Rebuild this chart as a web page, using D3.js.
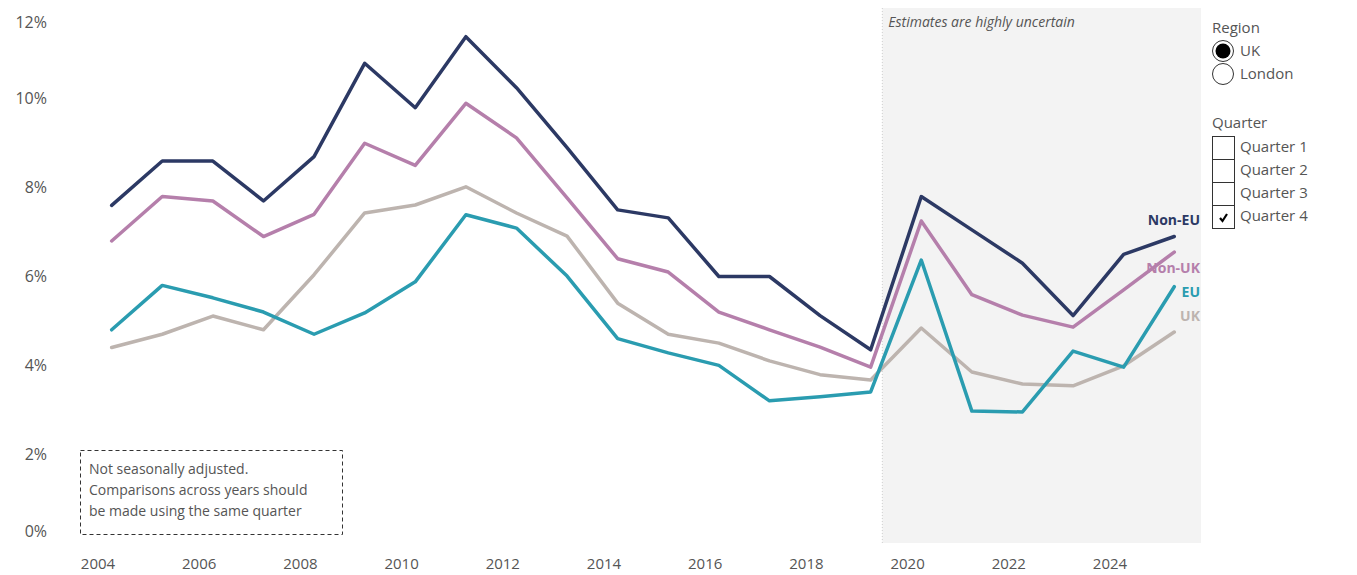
<!DOCTYPE html>
<html>
<head>
<meta charset="utf-8">
<script src="https://cdn.jsdelivr.net/npm/d3@7"></script>
<style>
  body { margin: 0; background: #fff; }
  text { font-family: "Open Sans", "Noto Sans", sans-serif; }
</style>
</head>
<body>
<div class="chart"></div>
<script>
/* Unemployment rate by country of birth, Quarter 4, UK */

var years = [2004, 2005, 2006, 2007, 2008, 2009, 2010, 2011, 2012, 2013, 2014,
             2015, 2016, 2017, 2018, 2019, 2020, 2021, 2022, 2023, 2024, 2025];

var nonEU = [7.6, 8.6, 8.6, 7.7, 8.7, 10.8, 9.8, 11.4, 10.25, 8.9, 7.5,
             7.32, 6.0, 6.0, 5.12, 4.35, 7.8, 7.05, 6.3, 5.12, 6.5, 6.9];
var nonUK = [6.8, 7.8, 7.7, 6.9, 7.4, 9.0, 8.5, 9.9, 9.12, 7.77, 6.4,
             6.1, 5.2, 4.8, 4.41, 3.96, 7.25, 5.59, 5.13, 4.86, 5.7, 6.55];
var eu    = [4.8, 5.8, 5.52, 5.2, 4.7, 5.18, 5.88, 7.39, 7.09, 6.01, 4.6,
             4.28, 4.0, 3.2, 3.29, 3.4, 6.37, 2.97, 2.95, 4.32, 3.96, 5.77];
var uk    = [4.4, 4.7, 5.11, 4.8, 6.04, 7.43, 7.61, 8.02, 7.43, 6.91, 5.4,
             4.7, 4.5, 4.1, 3.79, 3.67, 4.84, 3.85, 3.58, 3.54, 3.99, 4.75];

var seriesNames = ["UK", "EU", "Non-UK", "Non-EU"];
var seriesColors = ["#bdb4af", "#2a9cb0", "#b57fab", "#2c3964"];

var yTicks = [0, 2, 4, 6, 8, 10, 12];
var xTicks = [2004, 2006, 2008, 2010, 2012, 2014, 2016, 2018, 2020, 2022, 2024];

var regionOptions = ["UK", "London"];
var quarterOptions = ["Quarter 1", "Quarter 2", "Quarter 3", "Quarter 4"];

drawChart();

function drawChart() {

  var width = 1357, height = 575;

  var svg = d3.select(".chart")
      .append("svg")
      .attr("width", width)
      .attr("height", height);

  var x = d3.scaleLinear().domain([2004, 2024]).range([98, 1110]);
  var y = d3.scaleLinear().domain([0, 12]).range([543, 10]);
  var plotRight = 1201;

  // uncertain estimates band
  var shadeX = x(2019.5);
  svg.append("rect")
    .attr("x", shadeX).attr("y", 8)
    .attr("width", plotRight - shadeX).attr("height", 535)
    .style("fill", "#f3f3f3");
  svg.append("line")
    .attr("x1", shadeX).attr("x2", shadeX)
    .attr("y1", 8).attr("y2", 543)
    .style("stroke", "#cfcfcf")
    .style("stroke-dasharray", "1,2");
  svg.append("text")
    .attr("x", shadeX + 6).attr("y", 22)
    .attr("dy", "0.35em")
    .style("font-size", "14px")
    .style("font-style", "italic")
    .style("fill", "#555")
    .text("Estimates are highly uncertain");

  // y axis labels
  svg.append("g")
    .selectAll("text")
    .data(yTicks)
    .enter()
    .append("text")
    .attr("x", 47)
    .attr("y", function (d) {
      var off = d === 0 ? -12 : (d === 12 ? 12 : 0);
      return y(d) + off;
    })
    .attr("dy", "0.35em")
    .attr("text-anchor", "end")
    .style("font-size", "16px")
    .style("fill", "#555")
    .text(function (d) { return d + "%"; });

  // x axis labels
  svg.append("g")
    .selectAll("text")
    .data(xTicks)
    .enter()
    .append("text")
    .attr("x", function (d) { return x(d); })
    .attr("y", 564)
    .attr("dy", "0.35em")
    .attr("text-anchor", "middle")
    .style("font-size", "15px")
    .style("fill", "#555")
    .text(function (d) { return d; });

  // lines
  var allSeries = [uk, eu, nonUK, nonEU];
  var line = d3.line()
    .x(function (d, i) { return x(years[i] + 0.27); })
    .y(function (d) { return y(d); });

  svg.append("g")
    .selectAll("path")
    .data(allSeries)
    .enter()
    .append("path")
    .attr("d", line)
    .style("fill", "none")
    .style("stroke", function (d, i) { return seriesColors[i]; })
    .style("stroke-width", 3.5)
    .style("stroke-linejoin", "round")
    .style("stroke-linecap", "round");

  // end labels
  var labelY = { "Non-EU": 220, "Non-UK": 268, "EU": 292, "UK": 316 };
  svg.append("g")
    .selectAll("text")
    .data(seriesNames)
    .enter()
    .append("text")
    .attr("x", plotRight - 1)
    .attr("y", function (d) { return labelY[d]; })
    .attr("dy", "0.35em")
    .attr("text-anchor", "end")
    .style("font-size", "14px")
    .style("font-weight", "bold")
    .style("fill", function (d, i) { return seriesColors[i]; })
    .text(function (d) { return d; });

  // note box
  svg.append("rect")
    .attr("x", 80.5).attr("y", 450.5)
    .attr("width", 262).attr("height", 84)
    .style("fill", "none")
    .style("stroke", "#333")
    .style("stroke-dasharray", "4,3");
  var note = ["Not seasonally adjusted.", "Comparisons across years should", "be made using the same quarter"];
  svg.append("g")
    .selectAll("text")
    .data(note)
    .enter()
    .append("text")
    .attr("x", 89)
    .attr("y", function (d, i) { return 469 + i * 21; })
    .attr("dy", "0.35em")
    .style("font-size", "14px")
    .style("fill", "#555")
    .text(function (d) { return d; });

  // region filter
  var leg = svg.append("g").attr("transform", "translate(1212,0)");
  leg.append("text")
    .attr("x", 0).attr("y", 28).attr("dy", "0.35em")
    .style("font-size", "15px").style("fill", "#555")
    .text("Region");
  regionOptions.forEach(function (r, i) {
    var cy = 51 + i * 23;
    leg.append("circle")
      .attr("cx", 11).attr("cy", cy).attr("r", 10.5)
      .style("fill", "#fff").style("stroke", "#333").style("stroke-width", 1);
    if (i === 0) {
      leg.append("circle")
        .attr("cx", 11).attr("cy", cy).attr("r", 7.5)
        .style("fill", "#000");
    }
    leg.append("text")
      .attr("x", 28).attr("y", cy).attr("dy", "0.35em")
      .style("font-size", "15px").style("fill", "#555")
      .text(r);
  });

  // quarter filter
  leg.append("text")
    .attr("x", 0).attr("y", 123).attr("dy", "0.35em")
    .style("font-size", "15px").style("fill", "#555")
    .text("Quarter");
  quarterOptions.forEach(function (q, i) {
    var top = 136 + i * 23;
    leg.append("rect")
      .attr("x", 0.5).attr("y", top + 0.5)
      .attr("width", 22).attr("height", 23)
      .style("fill", "#fff").style("stroke", "#333");
    if (i === 3) {
      leg.append("path")
        .attr("d", "M8," + (top + 13) + " L10.5," + (top + 16) + " L15," + (top + 9))
        .style("fill", "none").style("stroke", "#000").style("stroke-width", 2.2);
    }
    leg.append("text")
      .attr("x", 28).attr("y", top + 11).attr("dy", "0.35em")
      .style("font-size", "15px").style("fill", "#555")
      .text(q);
  });

}
</script>
</body>
</html>
